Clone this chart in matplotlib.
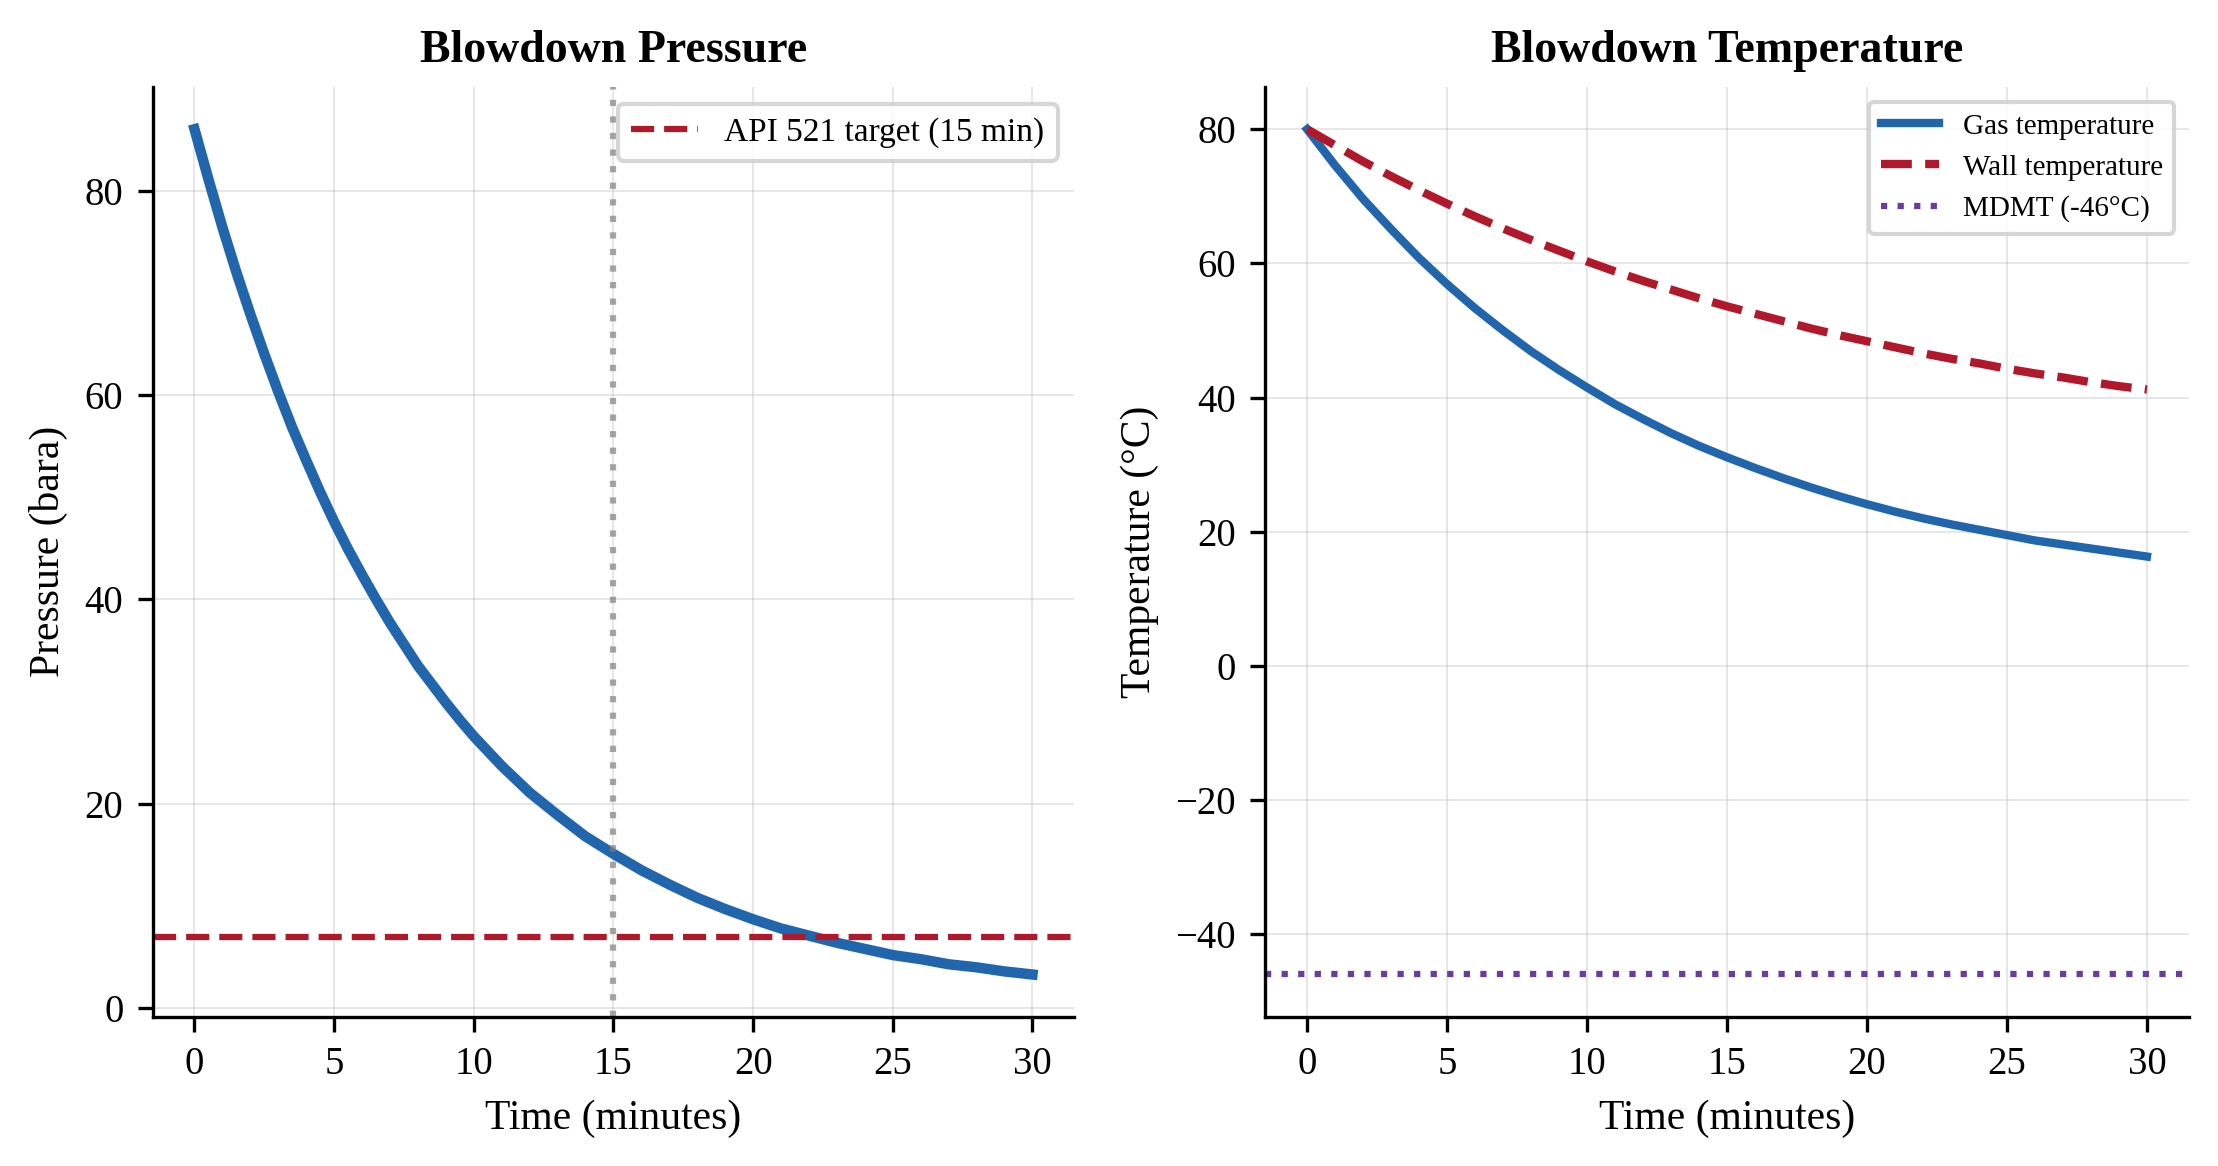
import matplotlib
matplotlib.use("Agg")
import matplotlib.pyplot as plt

plt.rcParams['font.family'] = ['Liberation Serif', 'DejaVu Serif']

# values
p_time = [0, 0.5, 1, 1.5, 2, 2.5, 3, 3.5, 4, 4.5, 5, 5.5, 6, 6.5, 7, 7.5,
          8, 8.5, 9, 9.5, 10, 11, 12, 13, 14, 15, 16, 17, 18, 19, 20,
          21, 22, 23, 24, 25, 26, 27, 28, 29, 30]
pressure_bara = [86.0, 81.1, 76.4, 72.0, 67.9, 64.0, 60.3, 56.8, 53.6, 50.5,
                 47.6, 44.9, 42.4, 40.0, 37.7, 35.6, 33.5, 31.7, 29.9, 28.2,
                 26.6, 23.7, 21.1, 18.9, 16.8, 15.1, 13.5, 12.1, 10.8, 9.7,
                 8.7, 7.8, 7.1, 6.4, 5.8, 5.2, 4.8, 4.3, 4.0, 3.6, 3.3]
time_min = list(range(0, 31))
gas_temp_c = [80.0, 74.6, 69.6, 65.1, 60.8, 56.9, 53.3, 50.0, 46.9, 44.1,
              41.5, 39.0, 36.8, 34.7, 32.8, 31.1, 29.5, 28.0, 26.6, 25.3,
              24.1, 23.0, 22.0, 21.1, 20.3, 19.5, 18.7, 18.1, 17.5, 16.9, 16.3]
wall_temp_c = [80.0, 77.6, 75.2, 73.0, 70.9, 68.9, 67.0, 65.2, 63.5, 61.9,
               60.3, 58.8, 57.4, 56.1, 54.8, 53.6, 52.5, 51.4, 50.3, 49.3,
               48.4, 47.5, 46.6, 45.8, 45.1, 44.3, 43.6, 43.0, 42.3, 41.7, 41.2]
target_pressure = 7.0
target_time = 15
mdmt = -46

blue = "#2166ac"
red = "#b2182b"
purple = "#6a3d9a"

fig = plt.figure(figsize=(2218 / 300, 1166 / 300), dpi=300)
ax1 = fig.add_axes([0.0688, 0.128, 0.4156, 0.7974])
ax2 = fig.add_axes([0.5704, 0.128, 0.4165, 0.7974])

# pressure
ax1.plot(p_time, pressure_bara, color=blue, lw=2.5)
ax1.axhline(target_pressure, color=red, ls="--", lw=1.5, label="API 521 target (15 min)")
ax1.axvline(target_time, color="gray", ls=":", lw=1.5, alpha=0.7)
ax1.set_title("Blowdown Pressure", fontsize=11, fontweight="bold")
ax1.set_xlabel("Time (minutes)", fontsize=10)
ax1.set_ylabel("Pressure (bara)", fontsize=10)
ax1.legend(loc="upper right", fontsize=8)

# temperature
ax2.plot(time_min, gas_temp_c, color=blue, lw=2, label="Gas temperature")
ax2.plot(time_min, wall_temp_c, color=red, ls="--", lw=2, label="Wall temperature")
ax2.axhline(mdmt, color=purple, ls=":", lw=1.5, label="MDMT (-46°C)")
ax2.set_title("Blowdown Temperature", fontsize=11, fontweight="bold")
ax2.set_xlabel("Time (minutes)", fontsize=10)
ax2.set_ylabel("Temperature (°C)", fontsize=10)
ax2.legend(loc="upper right", fontsize=7)

for ax in (ax1, ax2):
    ax.grid(True, alpha=0.3, linewidth=0.5)
    ax.spines["top"].set_visible(False)
    ax.spines["right"].set_visible(False)
    ax.tick_params(labelsize=9.3)

fig.savefig("out.png", dpi=300)
